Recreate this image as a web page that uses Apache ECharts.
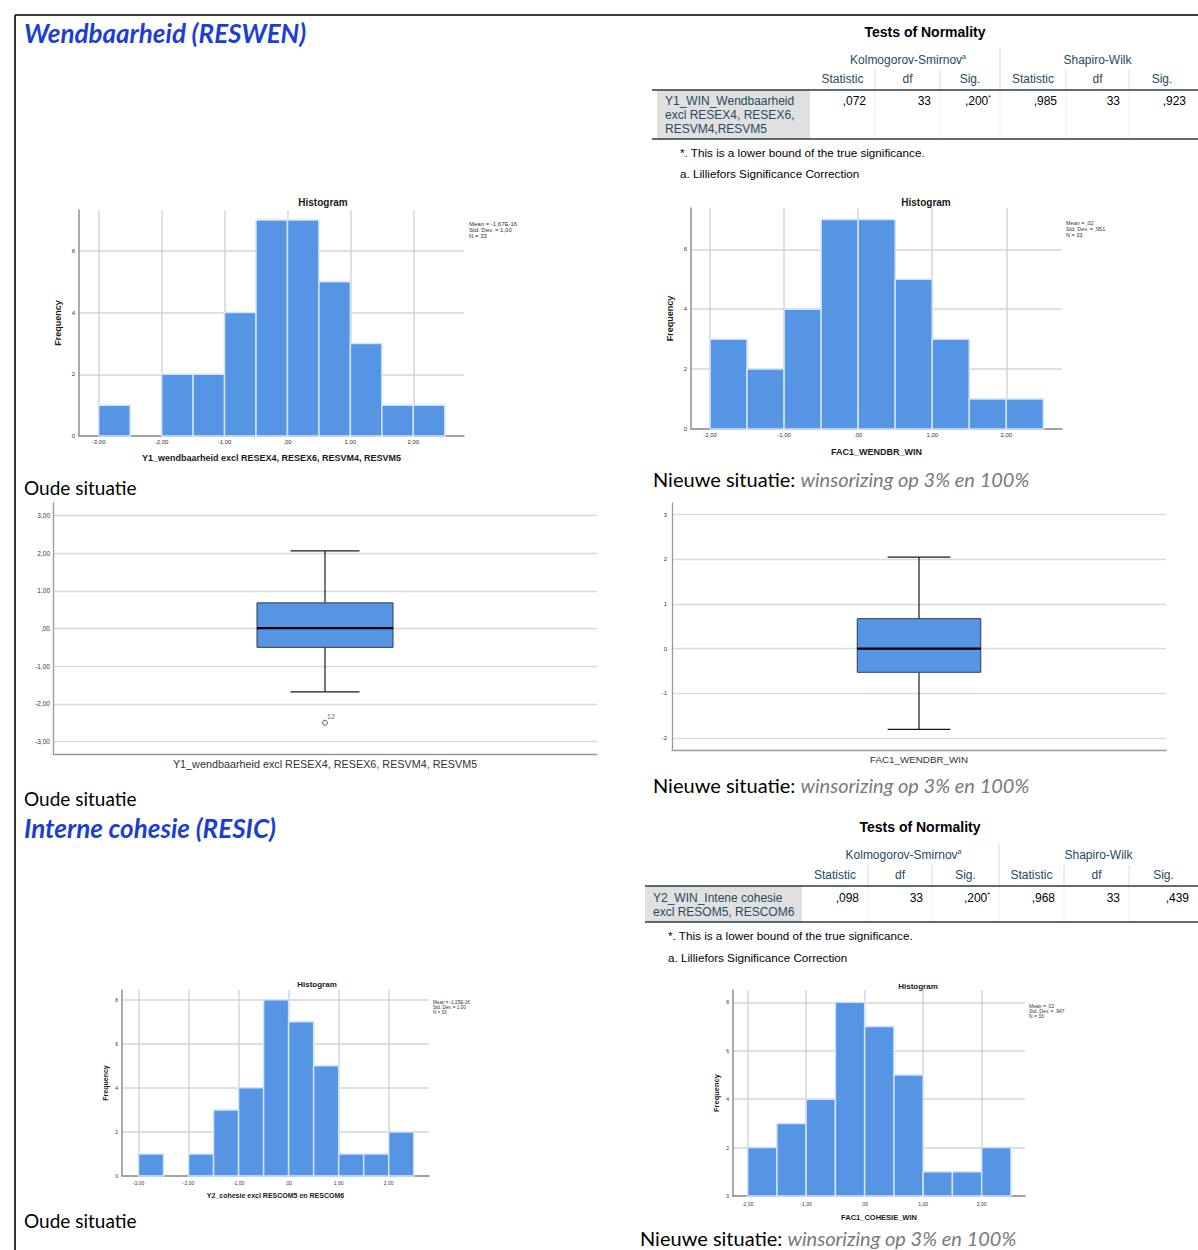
<!DOCTYPE html>
<html>
<head>
<meta charset="utf-8">
<script src="https://cdn.jsdelivr.net/npm/echarts@6/dist/echarts.min.js"></script>
<style>
  html, body { margin: 0; padding: 0; background: #ffffff; }
  #chart { width: 1198px; height: 1250px; }
</style>
</head>
<body>
<div id="chart"></div>
<script>
// ---------------- data ----------------
const BIN_WIDTH = 0.5;

// Wendbaarheid, old situation
const H1_BIN_START = [-3.0, -2.5, -2.0, -1.5, -1.0, -0.5, 0.0, 0.5, 1.0, 1.5, 2.0];
const H1_COUNTS    = [1, 0, 2, 2, 4, 7, 7, 5, 3, 1, 1];
const H1_X_TICKS   = [-3, -2, -1, 0, 1, 2];
const H1_Y_TICKS   = [0, 2, 4, 6];
const H1_STATS     = ['Mean = -1,67E-16', 'Std. Dev. = 1,00', 'N = 33'];
const H1_X_NAME    = 'Y1_wendbaarheid excl RESEX4, RESEX6, RESVM4, RESVM5';

// Wendbaarheid, winsorized
const H2_BIN_START = [-2.0, -1.5, -1.0, -0.5, 0.0, 0.5, 1.0, 1.5, 2.0];
const H2_COUNTS    = [3, 2, 4, 7, 7, 5, 3, 1, 1];
const H2_X_TICKS   = [-2, -1, 0, 1, 2];
const H2_Y_TICKS   = [0, 2, 4, 6];
const H2_STATS     = ['Mean = ,02', 'Std. Dev. = ,951', 'N = 33'];
const H2_X_NAME    = 'FAC1_WENDBR_WIN';

// Interne cohesie, old situation
const H3_BIN_START = [-3.0, -2.5, -2.0, -1.5, -1.0, -0.5, 0.0, 0.5, 1.0, 1.5, 2.0];
const H3_COUNTS    = [1, 0, 1, 3, 4, 8, 7, 5, 1, 1, 2];
const H3_X_TICKS   = [-3, -2, -1, 0, 1, 2];
const H3_Y_TICKS   = [0, 2, 4, 6, 8];
const H3_STATS     = ['Mean = -1,25E-16', 'Std. Dev. = 1,00', 'N = 33'];
const H3_X_NAME    = 'Y2_cohesie excl RESCOM5 en RESCOM6';

// Interne cohesie, winsorized
const H4_BIN_START = [-2.0, -1.5, -1.0, -0.5, 0.0, 0.5, 1.0, 1.5, 2.0];
const H4_COUNTS    = [2, 3, 4, 8, 7, 5, 1, 1, 2];
const H4_X_TICKS   = [-2, -1, 0, 1, 2];
const H4_Y_TICKS   = [0, 2, 4, 6, 8];
const H4_STATS     = ['Mean = ,02', 'Std. Dev. = ,947', 'N = 33'];
const H4_X_NAME    = 'FAC1_COHESIE_WIN';

// Boxplots: [lower whisker, Q1, median, Q3, upper whisker]
const B1_CATEGORY    = ['Y1_wendbaarheid excl RESEX4, RESEX6, RESVM4, RESVM5'];
const B1_STATS       = [-1.68, -0.50, 0.01, 0.68, 2.06];
const B1_OUTLIERS    = [-2.50];
const B1_OUTLIER_IDS = ['12'];
const B1_Y_TICKS     = [-3, -2, -1, 0, 1, 2, 3];

const B2_CATEGORY    = ['FAC1_WENDBR_WIN'];
const B2_STATS       = [-1.81, -0.53, 0.00, 0.67, 2.05];
const B2_Y_TICKS     = [-2, -1, 0, 1, 2, 3];

// Tests of Normality tables
const TABLE_TITLE   = 'Tests of Normality';
const TABLE_GROUPS  = ['Kolmogorov-Smirnov', 'Shapiro-Wilk'];
const TABLE_COLUMNS = ['Statistic', 'df', 'Sig.', 'Statistic', 'df', 'Sig.'];
const TABLE_NOTES   = ['*. This is a lower bound of the true significance.', 'a. Lilliefors Significance Correction'];
const T1_LABEL  = ['Y1_WIN_Wendbaarheid', 'excl RESEX4, RESEX6,', 'RESVM4,RESVM5'];
const T1_VALUES = [',072', '33', ',200', ',985', '33', ',923'];
const T1_MARKS  = ['', '', '*', '', '', ''];
const T2_LABEL  = ['Y2_WIN_Intene cohesie', 'excl RESOM5, RESCOM6'];
const T2_VALUES = [',098', '33', ',200', ',968', '33', ',439'];
const T2_MARKS  = ['', '', '*', '', '', ''];

// Document text
const HEADINGS    = ['Wendbaarheid (RESWEN)', 'Interne cohesie (RESIC)'];
const CAPTION_OLD = 'Oude situatie';
const CAPTION_NEW = ['Nieuwe situatie: ', 'winsorizing op 3% en 100%'];

// ---------------- styling ----------------
const SPSS_FONT = '"Liberation Sans", Arial, sans-serif';
const DOC_FONT  = 'Lato, Calibri, sans-serif';
const BAR_FILL  = '#5595e3';
const BAR_EDGE  = '#d3e3f7';
const GRID_LINE = '#d6d6d6';
const AXIS_LINE = '#8f8f8f';

// decimal comma, no leading zero: -3,00  ,00  1,00
function commaFmt(v) {
  const s = Math.abs(v).toFixed(2).replace('.', ',');
  return (v < 0 ? '-' : '') + (s.startsWith('0,') ? s.slice(1) : s);
}

function txt(x, y, text, o) {
  return {
    type: 'text', x: x, y: y, silent: true, z: 10,
    style: Object.assign({
      text: text, fill: '#000', fontFamily: SPSS_FONT, fontSize: 12,
      align: 'left', verticalAlign: 'middle'
    }, o || {})
  };
}
function seg(x1, y1, x2, y2, color, w) {
  return { type: 'line', silent: true, z: 10, shape: { x1, y1, x2, y2 }, style: { stroke: color, lineWidth: w } };
}

const grids = [], xAxes = [], yAxes = [], series = [], graphics = [];

// ---------------- histograms ----------------
function histogram(s) {
  const i = grids.length;
  grids.push(Object.assign({ outerBoundsMode: 'none', containLabel: false }, s.box));
  xAxes.push({
    type: 'value', gridIndex: i, min: s.xMin, max: s.xMax,
    name: s.xName, nameLocation: 'middle', nameGap: s.xNameGap,
    nameTextStyle: { fontFamily: SPSS_FONT, fontWeight: 'bold', fontSize: s.nameSize, color: '#1a1a1a' },
    axisLine: { show: true, onZero: false, lineStyle: { color: AXIS_LINE, width: 1.5 } },
    axisTick: { show: false, customValues: s.xTicks },
    axisLabel: { customValues: s.xTicks, formatter: commaFmt, fontFamily: SPSS_FONT, fontSize: s.labelSize, color: '#333', margin: s.labelMargin },
    splitLine: { show: true, lineStyle: { color: GRID_LINE, width: 1.5 } }
  });
  yAxes.push({
    type: 'value', gridIndex: i, min: 0, max: s.yMax,
    name: 'Frequency', nameLocation: 'middle', nameGap: s.yNameGap,
    nameTextStyle: { fontFamily: SPSS_FONT, fontWeight: 'bold', fontSize: s.nameSize, color: '#1a1a1a' },
    axisLine: { show: true, onZero: false, lineStyle: { color: AXIS_LINE, width: 1.5 } },
    axisTick: { show: false, customValues: s.yTicks },
    axisLabel: { customValues: s.yTicks, fontFamily: SPSS_FONT, fontSize: s.labelSize, color: '#333', margin: 4 },
    splitLine: { show: true, lineStyle: { color: GRID_LINE, width: 1.5 } }
  });
  series.push({
    type: 'custom', xAxisIndex: i, yAxisIndex: i, silent: true, z: 3,
    data: s.starts.map((b, k) => [b, b + BIN_WIDTH, s.counts[k]]),
    encode: { x: [0, 1], y: 2 },
    renderItem: function (params, api) {
      const n = api.value(2);
      if (!n) return null;
      const a = api.coord([api.value(0), n]);
      const b = api.coord([api.value(1), 0]);
      return {
        type: 'rect',
        shape: { x: a[0], y: a[1], width: b[0] - a[0], height: b[1] - a[1] },
        style: { fill: BAR_FILL, stroke: BAR_EDGE, lineWidth: 1.5 }
      };
    }
  });
  graphics.push(txt(s.titleX, s.titleY, 'Histogram', { align: 'center', fontWeight: 'bold', fontSize: s.titleSize, fill: '#1a1a1a' }));
  graphics.push(txt(s.statsX, s.statsY, s.stats.join('\n'), { verticalAlign: 'top', fontSize: s.statsSize, lineHeight: s.statsLH, fill: '#333' }));
}

histogram({
  box: { left: 79, top: 210, width: 385, height: 226 },
  xMin: -3.313, xMax: 2.806, yMax: 7.32,
  xTicks: H1_X_TICKS, yTicks: H1_Y_TICKS, starts: H1_BIN_START, counts: H1_COUNTS,
  xName: H1_X_NAME, nameSize: 9, xNameGap: 17.5, yNameGap: 16.5, labelSize: 6, labelMargin: 3,
  titleX: 323, titleY: 202, titleSize: 10,
  stats: H1_STATS, statsX: 469, statsY: 221, statsSize: 6, statsLH: 6
});
histogram({
  box: { left: 691, top: 208, width: 371, height: 221 },
  xMin: -2.257, xMax: 2.752, yMax: 7.38,
  xTicks: H2_X_TICKS, yTicks: H2_Y_TICKS, starts: H2_BIN_START, counts: H2_COUNTS,
  xName: H2_X_NAME, nameSize: 9, xNameGap: 18, yNameGap: 16.5, labelSize: 6, labelMargin: 3,
  titleX: 926, titleY: 202, titleSize: 10,
  stats: H2_STATS, statsX: 1066, statsY: 220, statsSize: 5.5, statsLH: 5.8
});
histogram({
  box: { left: 122, top: 990, width: 307, height: 186 },
  xMin: -3.33, xMax: 2.805, yMax: 8.44,
  xTicks: H3_X_TICKS, yTicks: H3_Y_TICKS, starts: H3_BIN_START, counts: H3_COUNTS,
  xName: H3_X_NAME, nameSize: 7, xNameGap: 16, yNameGap: 13.5, labelSize: 5, labelMargin: 4,
  titleX: 317, titleY: 984, titleSize: 8,
  stats: H3_STATS, statsX: 433, statsY: 1000, statsSize: 4.6, statsLH: 5
});
histogram({
  box: { left: 733, top: 990, width: 292, height: 206 },
  xMin: -2.25, xMax: 2.74, yMax: 8.51,
  xTicks: H4_X_TICKS, yTicks: H4_Y_TICKS, starts: H4_BIN_START, counts: H4_COUNTS,
  xName: H4_X_NAME, nameSize: 7.5, xNameGap: 17.5, yNameGap: 13, labelSize: 5, labelMargin: 5,
  titleX: 918, titleY: 986, titleSize: 8,
  stats: H4_STATS, statsX: 1029, statsY: 1003, statsSize: 5, statsLH: 5.3
});

// ---------------- boxplots ----------------
const BOX_FRAC = 0.25;   // box width as share of the category band
const CAP_FRAC = 0.127;  // whisker cap width as share of the band

function boxplot(s) {
  const i = grids.length;
  grids.push(Object.assign({ outerBoundsMode: 'none', containLabel: false }, s.box));
  xAxes.push({
    type: 'category', gridIndex: i, data: s.category, boundaryGap: true,
    axisLine: { show: true, onZero: false, lineStyle: { color: '#9a9a9a', width: 1.3 } },
    axisTick: { show: false },
    axisLabel: { fontFamily: SPSS_FONT, fontSize: s.catSize, color: '#333', margin: 4 },
    splitLine: { show: false }
  });
  yAxes.push({
    type: 'value', gridIndex: i, min: s.yMin, max: s.yMax,
    axisLine: { show: true, onZero: false, lineStyle: { color: '#9a9a9a', width: 1.3 } },
    axisTick: { show: false, customValues: s.yTicks },
    axisLabel: { customValues: s.yTicks, formatter: s.fmt, fontFamily: SPSS_FONT, fontSize: s.labelSize, color: '#333', margin: s.labelMargin },
    splitLine: { show: true, lineStyle: { color: '#dadada', width: 1.3 } }
  });
  series.push({
    type: 'custom', xAxisIndex: i, yAxisIndex: i, silent: true, z: 3,
    data: [[0].concat(s.stats)],
    encode: { x: 0, y: [1, 2, 3, 4, 5] },
    renderItem: function (params, api) {
      const cx = api.coord([api.value(0), 0])[0];
      const band = api.size([1, 0])[0];
      const hw = band * BOX_FRAC / 2, cw = band * CAP_FRAC / 2;
      const y = k => api.coord([api.value(0), api.value(k)])[1];
      const lo = y(1), q1 = y(2), md = y(3), q3 = y(4), hi = y(5);
      const ln = { stroke: '#1a1a1a', lineWidth: 1.2 };
      return {
        type: 'group',
        children: [
          { type: 'line', shape: { x1: cx, y1: hi, x2: cx, y2: q3 }, style: ln },
          { type: 'line', shape: { x1: cx, y1: q1, x2: cx, y2: lo }, style: ln },
          { type: 'line', shape: { x1: cx - cw, y1: hi, x2: cx + cw, y2: hi }, style: ln },
          { type: 'line', shape: { x1: cx - cw, y1: lo, x2: cx + cw, y2: lo }, style: ln },
          { type: 'rect', shape: { x: cx - hw, y: q3, width: 2 * hw, height: q1 - q3 },
            style: { fill: BAR_FILL, stroke: '#2e3d4f', lineWidth: 1 } },
          { type: 'line', shape: { x1: cx - hw, y1: md, x2: cx + hw, y2: md }, style: { stroke: '#000', lineWidth: 2.2 } }
        ]
      };
    }
  });
  if (s.outliers) {
    series.push({
      type: 'scatter', xAxisIndex: i, yAxisIndex: i, silent: true, z: 4,
      data: s.outliers.map(v => [0, v]),
      symbol: 'circle', symbolSize: 5,
      itemStyle: { color: '#ffffff', borderColor: '#333', borderWidth: 1 },
      label: {
        show: true, position: [5, -7], fontFamily: SPSS_FONT, fontSize: 7, color: '#333',
        formatter: p => s.outlierIds[p.dataIndex]
      }
    });
  }
}

boxplot({
  box: { left: 53, top: 503, width: 544, height: 251 },
  category: B1_CATEGORY, catSize: 10.8, stats: B1_STATS, yMin: -3.33, yMax: 3.33,
  yTicks: B1_Y_TICKS, fmt: commaFmt, labelSize: 6.5, labelMargin: 3,
  outliers: B1_OUTLIERS, outlierIds: B1_OUTLIER_IDS
});
boxplot({
  box: { left: 672, top: 503, width: 494, height: 247 },
  category: B2_CATEGORY, catSize: 9.8, stats: B2_STATS, yMin: -2.27, yMax: 3.26,
  yTicks: B2_Y_TICKS, fmt: v => String(v), labelSize: 6, labelMargin: 5
});

// ---------------- normality tables ----------------
function normalityTable(L, label, values, marks) {
  const c = L.cols;
  const head = '#264a60', body = '#010205';
  graphics.push(txt(L.titleX, L.titleY, TABLE_TITLE, { align: 'center', fontWeight: 'bold', fontSize: 14, fill: body }));
  // group headers
  graphics.push(txt((c[0] + c[3]) / 2 + 3, L.row1Y, '{t|' + TABLE_GROUPS[0] + '}{s|a}', {
    align: 'center', rich: { t: { fontFamily: SPSS_FONT, fontSize: 12, fill: head, color: head }, s: { fontFamily: SPSS_FONT, fontSize: 7, fill: head, color: head, verticalAlign: 'top', lineHeight: 14 } }
  }));
  graphics.push(txt((c[3] + c[6]) / 2, L.row1Y, TABLE_GROUPS[1], { align: 'center', fill: head }));
  // column headers
  TABLE_COLUMNS.forEach((h, k) => graphics.push(txt((c[k] + c[k + 1]) / 2, L.row2Y, h, { align: 'center', fill: head })));
  // separators
  graphics.push(seg(c[3], L.sepTop1, c[3], L.headLineY, '#dcdcdc', 1));
  [1, 2, 4, 5].forEach(k => graphics.push(seg(c[k], L.sepTop2, c[k], L.headLineY, '#dcdcdc', 1)));
  [1, 2, 3, 4, 5].forEach(k => graphics.push(seg(c[k], L.headLineY, c[k], L.bodyBottomY, '#ececec', 1)));
  // label cell
  graphics.push({ type: 'rect', silent: true, z: 9, shape: { x: L.cellX0, y: L.headLineY, width: c[0] - L.cellX0, height: L.bodyBottomY - L.headLineY }, style: { fill: '#e0e0e0' } });
  label.forEach((t, k) => graphics.push(txt(L.labelX, L.labelY0 + k * 14, t, { fill: head })));
  // values
  values.forEach((v, k) => {
    const t = marks[k] ? '{v|' + v + '}{s|' + marks[k] + '}' : v;
    graphics.push(txt(c[k + 1] - 9, L.labelY0, t, {
      align: 'right', fill: body,
      rich: { v: { fontFamily: SPSS_FONT, fontSize: 12, fill: body, color: body }, s: { fontFamily: SPSS_FONT, fontSize: 7, fill: body, color: body, verticalAlign: 'top', lineHeight: 14 } }
    }));
  });
  // rules
  graphics.push(seg(L.lineX0, L.headLineY, 1198, L.headLineY, '#2a3b48', 1.5));
  graphics.push(seg(L.lineX0, L.bodyBottomY, 1198, L.bodyBottomY, '#2a3b48', 1.5));
  // notes
  TABLE_NOTES.forEach((n, k) => graphics.push(txt(L.noteX, L.noteY[k], n, { fontSize: 11.7, fill: body })));
}

normalityTable({
  titleX: 925, titleY: 32, lineX0: 652, cellX0: 657,
  cols: [810, 875, 940, 1000, 1066, 1129, 1195],
  row1Y: 60, row2Y: 79, sepTop1: 48, sepTop2: 69, headLineY: 90, bodyBottomY: 139,
  labelX: 665, labelY0: 101, noteX: 680, noteY: [152, 173]
}, T1_LABEL, T1_VALUES, T1_MARKS);

normalityTable({
  titleX: 920, titleY: 827, lineX0: 645, cellX0: 645,
  cols: [802, 868, 932, 999, 1064, 1129, 1198],
  row1Y: 855, row2Y: 875, sepTop1: 843, sepTop2: 865, headLineY: 886, bodyBottomY: 922,
  labelX: 653, labelY0: 898, noteX: 668, noteY: [935, 957]
}, T2_LABEL, T2_VALUES, T2_MARKS);

// ---------------- document text and frame ----------------
const headingStyle = { fontFamily: DOC_FONT, fontSize: 26, fontWeight: 'bold', fontStyle: 'italic', fill: '#1c3fd2' };
const captionStyle = { fontFamily: DOC_FONT, fontSize: 19, fill: '#000' };
function newCaption(x, y) {
  return txt(x, y, '{a|' + CAPTION_NEW[0] + '}{b|' + CAPTION_NEW[1] + '}', {
    rich: {
      a: { fontFamily: DOC_FONT, fontSize: 20, fill: '#000', color: '#000' },
      b: { fontFamily: DOC_FONT, fontSize: 20, fontStyle: 'italic', fill: '#7a7a7a', color: '#7a7a7a' }
    }
  });
}
graphics.push(seg(15, 15, 1198, 15, '#000', 1.6));
graphics.push(seg(15, 15, 15, 1250, '#000', 1.6));
graphics.push(txt(24, 33, HEADINGS[0], headingStyle));
graphics.push(txt(24, 828, HEADINGS[1], headingStyle));
graphics.push(txt(24, 487, CAPTION_OLD, captionStyle));
graphics.push(txt(24, 798, CAPTION_OLD, captionStyle));
graphics.push(txt(24, 1220, CAPTION_OLD, captionStyle));
graphics.push(newCaption(653, 479));
graphics.push(newCaption(653, 785));
graphics.push(newCaption(640, 1238));

const chart = echarts.init(document.getElementById('chart'), null, { renderer: 'svg', width: 1198, height: 1250 });
chart.setOption({
  animation: false,
  backgroundColor: '#ffffff',
  grid: grids,
  xAxis: xAxes,
  yAxis: yAxes,
  series: series,
  graphic: { elements: graphics }
});
</script>
</body>
</html>
